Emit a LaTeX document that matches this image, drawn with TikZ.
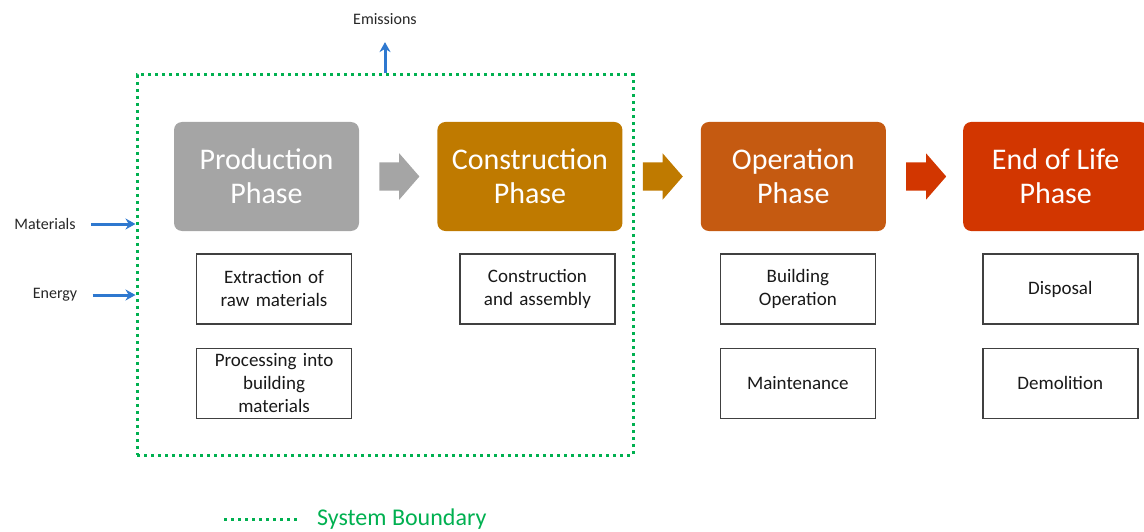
\documentclass[tikz,border=0pt]{standalone}
\usepackage{fontspec}
\setmainfont{Carlito}
\usetikzlibrary{arrows.meta,positioning,shapes.arrows}
\definecolor{prodgray}{HTML}{A5A5A5}
\definecolor{consorange}{HTML}{BF7A00}
\definecolor{operorange}{HTML}{C55A11}
\definecolor{eolred}{HTML}{D23600}
\definecolor{sysgreen}{HTML}{00B050}
\definecolor{flowblue}{HTML}{2E78CF}
\definecolor{taskgray}{HTML}{404040}
\tikzset{
	phase/.style = {rectangle, rounded corners=8pt, text=white, align=center,
		minimum width=185pt, minimum height=109pt, inner sep=0pt,
		font=\fontsize{30}{34}\selectfont},% phase box
	task/.style = {rectangle, draw=taskgray, line width=1.5pt, fill=white,
		text=black!90, align=center, text width=155pt, minimum height=70pt,
		inner sep=0pt, font=\fontsize{19}{23}\selectfont},% task box
	flow/.style = {single arrow, minimum width=46pt, minimum height=40pt,
		single arrow head extend=9pt, single arrow tip angle=98,
		inner xsep=0pt, inner ysep=14pt},% block arrow
	sysb/.style = {draw=sysgreen, line width=3pt, dash pattern=on 3pt off 4pt},% system boundary
	io/.style = {draw=flowblue, line width=3pt, ->},% inputs, outputs
	lbl/.style = {font=\fontsize{16}{19}\selectfont, text=black!85}
}
\begin{document}
\begin{tikzpicture}[x=1pt,y=-1pt,>={Stealth[length=10pt,width=11pt]}]
	\useasboundingbox (0,0) rectangle (1144,532);
	\node [sysb, rectangle, inner sep=0pt, minimum width=496pt, minimum height=380pt] (bound) at (385,265) {};
	% phases
	\node [phase, fill=prodgray] (prod) at (266.5,176.5) {Production\\Phase};
	\node [phase, fill=consorange, right=78pt of prod] (cons) {Construction\\Phase};
	\node [phase, fill=operorange, right=78pt of cons] (oper) {Operation\\Phase};
	\node [phase, fill=eolred, right=77pt of oper] (eol) {End of Life\\Phase};
	\node [flow, fill=prodgray, right=20pt of prod] (p2c) {};
	\node [flow, fill=consorange, right=20pt of cons] (c2o) {};
	\node [flow, fill=eolred, right=20pt of oper] (o2e) {};
	% tasks
	\node [task, below right=22pt and 22pt of prod.south west] (extr) {Extraction of\\raw materials};
	\node [task, below=23pt of extr] (proc) {Processing into\\building\\materials};
	\node [task, below right=22pt and 22pt of cons.south west] (assy) {Construction\\and assembly};
	\node [task, below right=22pt and 19pt of oper.south west] (bop) {Building\\Operation};
	\node [task, below=23pt of bop] (maint) {Maintenance};
	\node [task, below right=22pt and 19pt of eol.south west] (disp) {Disposal};
	\node [task, below=23pt of disp] (demo) {Demolition};
	% flows in and out
	\node [lbl] (emis) at (385,19) {Emissions};
	\node [lbl] (mat) at (45,224) {Materials};
	\node [lbl] (ener) at (55,295) {Energy};
	\draw [io] (bound.north) -- ([yshift=-14pt]emis.south);
	\draw [io] ([xshift=12pt]mat.east) -- (bound.west |- mat.east);
	\draw [io] ([xshift=12pt]ener.east) -- (bound.west |- ener.east);
	% legend
	\coordinate (legA) at (224,519);
	\coordinate (legB) at (300,519);
	\draw [sysb] (legA) -- (legB);
	\node [font=\fontsize{24}{28}\selectfont, text=sysgreen, anchor=west, inner sep=0pt] (leg) at (317,519) {System Boundary};
\end{tikzpicture}
\end{document}
